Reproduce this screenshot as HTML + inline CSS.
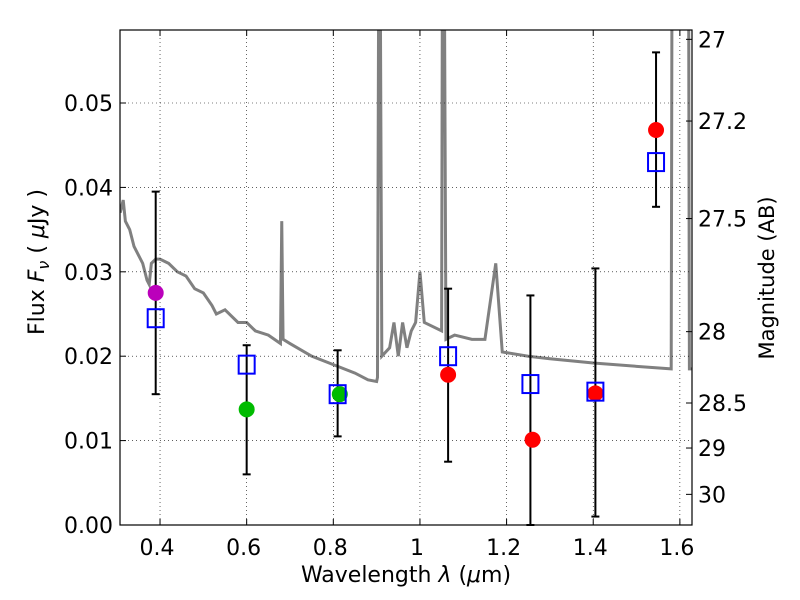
<!DOCTYPE html>
<html><head><meta charset="utf-8"><style>
html,body{margin:0;padding:0;background:#fff;overflow:hidden;width:800px;height:600px}
svg{display:block}
svg text{font-family:"DejaVu Sans","Liberation Sans",sans-serif;fill:#000}
</style></head><body>
<svg id="c" width="800" height="600">
<text x="406" y="582" text-anchor="middle" font-size="22">Wavelength  <tspan font-style="italic">λ</tspan> (<tspan font-style="italic">μ</tspan>m)</text>
<text transform="translate(44,262) rotate(-90)" text-anchor="middle" font-size="22">Flux  <tspan font-style="italic">F</tspan><tspan font-style="italic" font-size="16" dy="5">ν</tspan><tspan dy="-5">  (  </tspan><tspan font-style="italic">μ</tspan>Jy )</text>
<text transform="translate(774,278) rotate(-90)" text-anchor="middle" font-size="21">Magnitude (AB)</text>
</svg>
<script>
const specW=[0.308,0.315,0.32,0.33,0.34,0.35,0.36,0.37,0.375,0.38,0.39,0.40,0.42,0.44,0.46,0.48,0.50,0.52,0.53,0.55,0.58,0.60,0.62,0.65,0.678,0.681,0.684,0.70,0.75,0.80,0.85,0.88,0.90,0.902,0.905,0.908,0.912,0.93,0.94,0.95,0.96,0.97,0.98,0.99,1.0,1.01,1.05,1.052,1.056,1.06,1.08,1.12,1.15,1.175,1.19,1.25,1.3,1.4,1.5,1.58,1.582,1.585,1.62,1.622,1.628];
const specF=[0.037,0.0385,0.036,0.035,0.033,0.032,0.031,0.029,0.0285,0.031,0.0315,0.0315,0.031,0.030,0.0295,0.028,0.0275,0.026,0.025,0.0255,0.024,0.024,0.023,0.0225,0.0215,0.036,0.022,0.0215,0.020,0.019,0.018,0.0172,0.017,0.0175,0.07,0.07,0.02,0.021,0.024,0.020,0.024,0.021,0.023,0.024,0.030,0.024,0.023,0.07,0.07,0.022,0.0225,0.022,0.022,0.031,0.0205,0.020,0.0197,0.0192,0.0188,0.0185,0.07,0.07,0.07,0.0185,0.0185];
const sqX=[0.39,0.60,0.81,1.065,1.255,1.405,1.545];
const sqF=[0.0245,0.019,0.0155,0.020,0.0167,0.0158,0.043];
const errLo=[0.0155,0.006,0.0105,0.0075,0,0.001,0.0377];
const errHi=[0.0395,0.0213,0.0207,0.028,0.0272,0.0304,0.056];
const dotX=[0.39,0.60,0.815,1.065,1.26,1.405,1.545];
const dotF=[0.0275,0.0137,0.0155,0.0178,0.0101,0.0156,0.0468];
const dotC=['#bb00bb','#00bb00','#00bb00','#ff0000','#ff0000','#ff0000','#ff0000'];
const xTicks=[0.4,0.6,0.8,1.0,1.2,1.4,1.6];
const xTickLabels=['0.4','0.6','0.8','1','1.2','1.4','1.6'];
const yTicks=[0,0.01,0.02,0.03,0.04,0.05];
const yTickLabels=['0.00','0.01','0.02','0.03','0.04','0.05'];
const magTicks=[27,27.2,27.5,28,28.5,29,30];
const magTickLabels=['27','27.2','27.5','28','28.5','29','30'];

const L=120,R=692,T=30,B=525,X0=0.3076,X1=1.628,Y0=0,Y1=0.05865;
const xs=v=>L+(v-X0)/(X1-X0)*(R-L);
const ys=v=>B-(v-Y0)/(Y1-Y0)*(B-T);
const NS='http://www.w3.org/2000/svg',svg=document.getElementById('c');
function mk(t,a,p){const e=document.createElementNS(NS,t);for(const k in a)e.setAttribute(k,a[k]);(p||svg).appendChild(e);return e;}
const defs=mk('defs',{});const cp=mk('clipPath',{id:'cp'},defs);mk('rect',{x:L,y:T,width:R-L,height:B-T},cp);
const plot=mk('g',{'clip-path':'url(#cp)'});


xTicks.forEach((v,i)=>{const x=xs(v);
 const g=mk('line',{x1:x,x2:x,y1:T,y2:B,stroke:'#000','stroke-width':0.6,'stroke-dasharray':'1,3'});
 
 
 mk('line',{x1:x,x2:x,y1:B,y2:B-6,stroke:'#000'});mk('line',{x1:x,x2:x,y1:T,y2:T+6,stroke:'#000'});
 const t=mk('text',{x:x-3,y:B+30,'text-anchor':'middle','font-size':22});t.textContent=xTickLabels[i];
 
 });
yTicks.forEach((v,i)=>{const y=ys(v);
 const g=mk('line',{x1:L,x2:R,y1:y,y2:y,stroke:'#000','stroke-width':0.6,'stroke-dasharray':'1,3'});
 
 
 mk('line',{x1:L,x2:L+6,y1:y,y2:y,stroke:'#000'});
 const t=mk('text',{x:L-7,y:y+8,'text-anchor':'end','font-size':22});t.textContent=yTickLabels[i];
 
 });
magTicks.forEach((m,i)=>{const y=ys(Math.pow(10,(23.9-m)/2.5));
 mk('line',{x1:R,x2:R-6,y1:y,y2:y,stroke:'#000'});
 const t=mk('text',{x:R+6,y:y+8,'font-size':22});t.textContent=magTickLabels[i];
 
 });
const sp=mk('polyline',{points:specW.map((w,i)=>xs(w)+','+ys(specF[i])).join(' '),fill:'none',stroke:'#808080','stroke-width':3},plot);


sqX.forEach((w,i)=>{const x=xs(w);
 const e=mk('g',{});
 
 
 mk('line',{x1:x,x2:x,y1:ys(errLo[i]),y2:ys(errHi[i]),stroke:'#000','stroke-width':2},e);
 mk('line',{x1:x-4,x2:x+4,y1:ys(errLo[i]),y2:ys(errLo[i]),stroke:'#000','stroke-width':2},e);
 mk('line',{x1:x-4,x2:x+4,y1:ys(errHi[i]),y2:ys(errHi[i]),stroke:'#000','stroke-width':2},e);});
dotX.forEach((w,i)=>{const c=mk('circle',{cx:xs(w),cy:ys(dotF[i]),r:8,fill:dotC[i]});
 
 });
sqX.forEach((w,i)=>{const r=mk('rect',{x:xs(w)-8,y:ys(sqF[i])-9,width:16,height:18,fill:'none',stroke:'#0000ff','stroke-width':2});
 
 });
const fr=mk('rect',{x:L,y:T,width:R-L,height:B-T,fill:'none',stroke:'#000','stroke-width':1.2});


</script>
</body></html>
